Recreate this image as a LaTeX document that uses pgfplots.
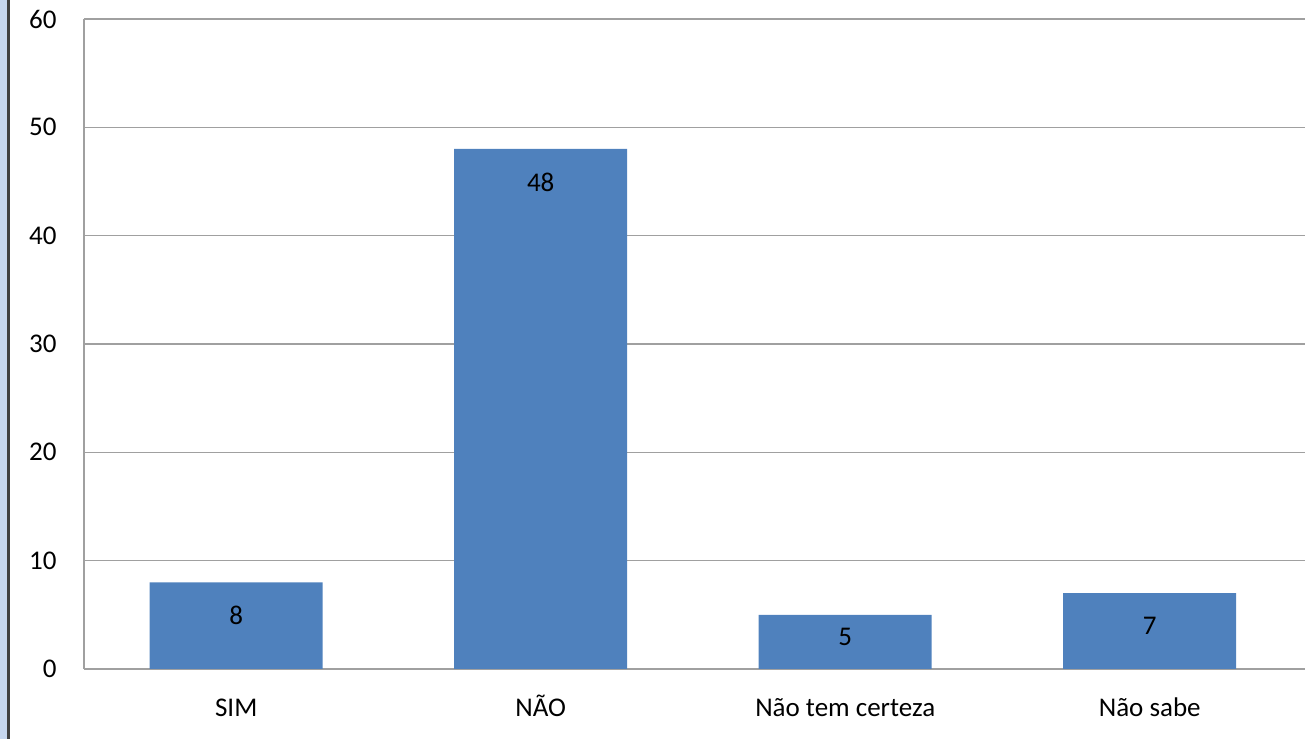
\documentclass[border=0pt]{standalone}
\usepackage{fontspec}
\setmainfont{Carlito}
\usepackage{pgfplots}
\pgfplotsset{compat=1.18}

\definecolor{barblue}{HTML}{4F81BD}
\definecolor{gridgray}{HTML}{A0A0A0}
\definecolor{stripblue}{HTML}{C6D6EE}
\definecolor{stripdark}{HTML}{404040}

\begin{document}
\begin{tikzpicture}[font=\fontsize{13.5}{16}\selectfont]
\begin{axis}[
    scale only axis,
    width=610.5pt,
    height=325pt,
    xmin=-0.5, xmax=3.51,
    ymin=0, ymax=60,
    ytick={0,10,20,30,40,50,60},
    xtick=data,
    xticklabels={SIM, NÃO, Não tem certeza, Não sabe},
    axis x line*=bottom,
    axis y line*=left,
    axis line style={gridgray, line width=0.75pt, -},
    ymajorgrids,
    grid style={gridgray, line width=0.75pt},
    major tick length=0pt,
    /pgf/number format/assume math mode=true,
    yticklabel style={anchor=east, inner sep=0pt, xshift=-13.5pt},
    xticklabel style={anchor=base, yshift=-24pt},
    ybar,
    bar width=86.5pt,
    nodes near coords,
    every node near coord/.append style={anchor=center, yshift=-16.5pt, black},
    coordinate style/.condition={y<6}{yshift=5.5pt},
]
\addplot[fill=barblue, draw=none] coordinates {
    (0,8)
    (1,48)
    (2,5)
    (3,7)
};
\end{axis}
% screenshot edge on the left
\fill[stripblue] ([xshift=-42pt,yshift=-35pt]current axis.south west) rectangle ([xshift=-38.5pt,yshift=9.5pt]current axis.north west);
\fill[stripdark] ([xshift=-38.5pt,yshift=-35pt]current axis.south west) rectangle ([xshift=-37pt,yshift=9.5pt]current axis.north west);
\pgfresetboundingbox
\path ([xshift=-42pt,yshift=-35pt]current axis.south west) rectangle ([yshift=9.5pt]current axis.north east);
\end{tikzpicture}
\end{document}
